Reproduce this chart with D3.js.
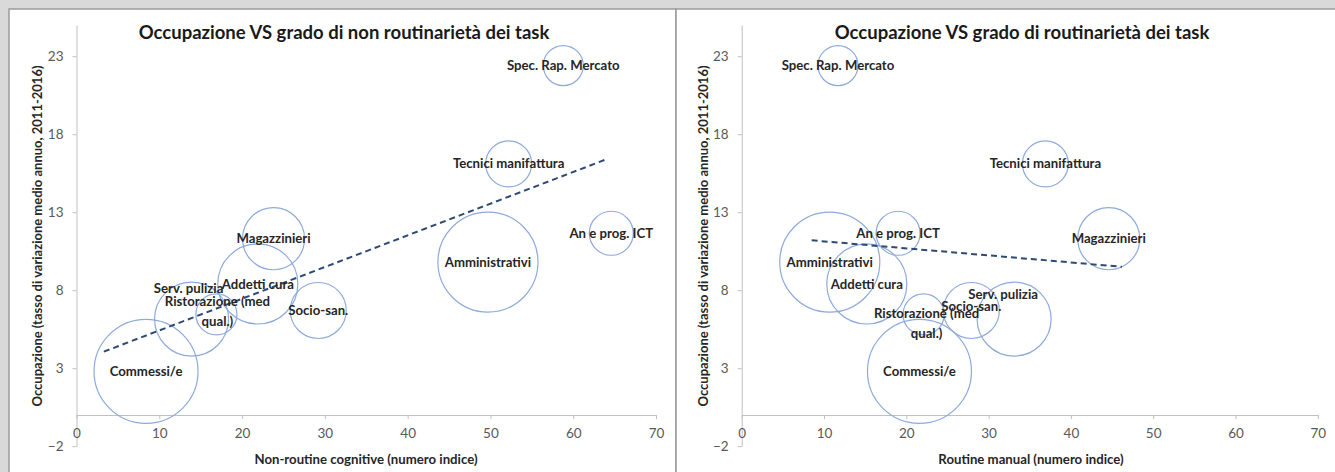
<!DOCTYPE html>
<html>
<head>
<meta charset="utf-8">
<script src="https://cdn.jsdelivr.net/npm/d3@7"></script>
<style>
  html, body { margin: 0; padding: 0; background: #d9d9d9; }
  svg { display: block; }
</style>
</head>
<body>
<svg id="chart" width="1335" height="472"></svg>
<script>
// ---- data ----
const categories = ["Spec. Rap. Mercato", "Tecnici manifattura", "An e prog. ICT", "Magazzinieri",
  "Amministrativi", "Addetti cura", "Socio-san.", "Commessi/e", "Serv. pulizia", "Ristorazione (med qual.)"];
const occupazione = [22.4, 16.1, 11.65, 11.3, 9.8, 8.4, 6.7, 2.8, 6.15, 6.45];
const dimensione = [148, 196, 179, 356, 926, 593, 290, 1000, 506, 156];
const nonRoutineCognitive = [58.8, 52.2, 64.6, 23.8, 49.7, 21.9, 29.2, 8.4, 13.9, 16.9];
const routineManual = [11.7, 36.9, 19.0, 44.6, 10.7, 15.2, 27.9, 21.6, 33.1, 22.1];
const trendLeftX = [3.3, 63.8];
const trendLeftY = [4.06, 16.35];
const trendRightX = [8.5, 46.2];
const trendRightY = [11.2, 9.5];
const xTicks = [0, 10, 20, 30, 40, 50, 60, 70];
const yTicks = [-2, 3, 8, 13, 18, 23];
const titles = ["Occupazione VS grado di non routinarietà dei task", "Occupazione VS grado di routinarietà dei task"];
const xTitles = ["Non-routine cognitive (numero indice)", "Routine manual (numero indice)"];
const yTitle = "Occupazione (tasso di variazione medio annuo, 2011-2016)";

// ---- layout / style (not data) ----
const FONT = "Lato, 'Open Sans', sans-serif";
const svg = d3.select("#chart");
const panels = [
  { px0: 9, px1: 676, plotX0: 76.5, plotX1: 656, titleX: 344, yTitleX: 37, xTitleX: 366,
    xs: nonRoutineCognitive, tx: trendLeftX, ty: trendLeftY,
    labelShift: { "Serv. pulizia": [-3, -31], "Ristorazione (med qual.)": [1, -2] } },
  { px0: 676, px1: 1345, plotX0: 741.7, plotX1: 1317.8, titleX: 1022, yTitleX: 703, xTitleX: 1031,
    xs: routineManual, tx: trendRightX, ty: trendRightY,
    labelShift: { "Serv. pulizia": [-11, -25], "Ristorazione (med qual.)": [3, 10], "Socio-san.": [0, -4] } }
];

const y = d3.scaleLinear().domain([-2, 25]).range([446.2, 25]);
const r = d3.scaleSqrt().domain([0, d3.max(dimensione)]).range([0, 52]);

panels.forEach((p, pi) => {
  const g = svg.append("g");
  g.append("rect").attr("x", p.px0).attr("y", 9).attr("width", p.px1 - p.px0).attr("height", 480)
    .attr("fill", "#ffffff").attr("stroke", "#9a9a9a").attr("stroke-width", 1.5);

  const x = d3.scaleLinear().domain([0, 70]).range([p.plotX0, p.plotX1]);

  // axes
  const yAxis = d3.axisLeft(y).tickValues(yTicks).tickSize(4).tickSizeOuter(0).tickPadding(9);
  const ga = g.append("g").attr("transform", `translate(${x(0)},0)`).call(yAxis);
  const xAxis = d3.axisBottom(x).tickValues(xTicks).tickSize(4).tickSizeOuter(0).tickPadding(9.5);
  const gx = g.append("g").attr("transform", `translate(0,${y(0)})`).call(xAxis);
  [ga, gx].forEach(a => {
    a.select(".domain").attr("stroke", "#c0c0c0").attr("stroke-width", 1);
    a.selectAll(".tick line").attr("stroke", "#c0c0c0");
    a.selectAll(".tick text").attr("fill", "#595959").style("font-family", FONT).style("font-size", "13.5px");
  });

  // bubbles
  const idx = d3.range(categories.length);
  g.append("g").selectAll("circle").data(idx).join("circle")
    .attr("cx", i => x(p.xs[i])).attr("cy", i => y(occupazione[i])).attr("r", i => r(dimensione[i]))
    .attr("fill", "none").attr("stroke", "#8eaadb").attr("stroke-width", 1.2);

  // trendline
  const line = d3.line().x(d => x(d[0])).y(d => y(d[1]));
  g.append("path").datum(p.tx.map((v, k) => [v, p.ty[k]])).attr("d", line)
    .attr("fill", "none").attr("stroke", "#2e4a74").attr("stroke-width", 2)
    .attr("stroke-dasharray", "6,4");

  // labels
  const lg = g.append("g").style("font-family", FONT).style("font-size", "13.2px")
    .style("font-weight", "700").attr("fill", "#262626").attr("text-anchor", "middle");
  idx.forEach(i => {
    const name = categories[i];
    const sh = p.labelShift[name] || [0, 0];
    const cx = x(p.xs[i]) + sh[0], cy = y(occupazione[i]) + sh[1];
    if (name === "Ristorazione (med qual.)") {
      const t = lg.append("text").attr("x", cx).attr("y", cy);
      t.append("tspan").attr("x", cx).attr("dy", "-0.45em").text("Ristorazione (med");
      t.append("tspan").attr("x", cx).attr("dy", "1.45em").text("qual.)");
    } else {
      lg.append("text").attr("x", cx).attr("y", cy).attr("dy", "0.35em").text(name);
    }
  });

  // titles
  g.append("text").attr("x", p.titleX).attr("y", 39).attr("text-anchor", "middle")
    .style("font-family", FONT).style("font-size", "18.5px").style("font-weight", "700")
    .attr("fill", "#1a1a1a").text(titles[pi]);
  g.append("text").attr("x", p.xTitleX).attr("y", 464).attr("text-anchor", "middle")
    .style("font-family", FONT).style("font-size", "13.2px").style("font-weight", "700")
    .attr("fill", "#262626").text(xTitles[pi]);
  g.append("text").attr("transform", `translate(${p.yTitleX},236) rotate(-90)`).attr("text-anchor", "middle")
    .attr("dy", "0.35em")
    .style("font-family", FONT).style("font-size", "13px").style("font-weight", "700")
    .attr("fill", "#262626").text(yTitle);
});
</script>
</body>
</html>
